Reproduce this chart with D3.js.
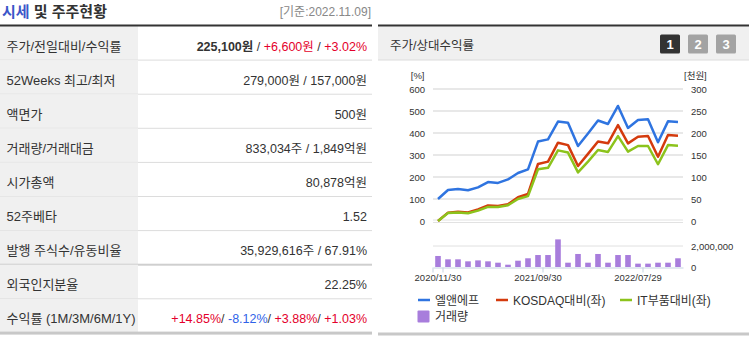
<!DOCTYPE html>
<html><head><meta charset="utf-8">
<script src="https://cdn.jsdelivr.net/npm/d3@7"></script>
<style>
body{margin:0;background:#fff;}
text{font-family:"Liberation Sans","Noto Sans CJK KR",sans-serif;}
</style></head>
<body>
<script>
// ---------- data ----------
const titleMain = "시세";
const titleRest = " 및 주주현황";
const asOf = "[기준:2022.11.09]";
const rowLabels = ["주가/전일대비/수익률","52Weeks 최고/최저","액면가","거래량/거래대금","시가총액","52주베타","발행 주식수/유동비율","외국인지분율","수익률 (1M/3M/6M/1Y)"];
// each value is a list of [text, kind]
const rowValues = [
  [["225,100원","bold"],[" / ","sep"],["+6,600원","up"],[" / ","sep"],["+3.02%","up"]],
  [["279,000원 / 157,000원","plain"]],
  [["500원","plain"]],
  [["833,034주 / 1,849억원","plain"]],
  [["80,878억원","plain"]],
  [["1.52","plain"]],
  [["35,929,616주 / 67.91%","plain"]],
  [["22.25%","plain"]],
  [["+14.85%","up"],["/ ","sep"],["-8.12%","down"],["/ ","sep"],["+3.88%","up"],["/ ","sep"],["+1.03%","up"]]
];
const chartTitle = "주가/상대수익률";
const pageButtons = ["1","2","3"];

const dates = ["2020/11/30","2020/12/30","2021/01/29","2021/02/26","2021/03/31","2021/04/30","2021/05/31","2021/06/30","2021/07/30","2021/08/31","2021/09/30","2021/10/29","2021/11/30","2021/12/30","2022/01/28","2022/02/28","2022/03/31","2022/04/29","2022/05/31","2022/06/30","2022/07/29","2022/08/31","2022/09/30","2022/10/31","2022/11/09"];
const priceK = [50,70.5,72.5,70,76.5,88.5,86.5,94.5,109,117.5,180.5,185.5,226,223.5,170.5,199,228.5,220.5,261.5,211.5,229.5,231,179,226.5,225.1];
const kosdaqRel = [0,38,42,39,53,71,68,76,108,123,259,270,356,345,250,305,361,353,436,353,383,386,292,391,388];
const itRel = [0,36,39,35,47,64,64,72,100,113,235,242,321,311,221,270,323,314,386,315,341,341,258,345,342];
const volume = [1050000,730000,730000,540000,630000,540000,410000,220000,600000,830000,1140000,1140000,2630000,410000,1240000,410000,1240000,410000,1140000,1140000,320000,320000,410000,410000,830000];
const leftTicks = [0,100,200,300,400,500,600];
const rightTicks = [0,50,100,150,200,250,300];
const volTicks = [0,2000000];
const xLabelDates = ["2020/11/30","2021/09/30","2022/07/29"];
const xTickDates = ["2020/12/30","2021/10/29","2022/08/31"];
const seriesNames = ["엘앤에프","KOSDAQ대비(좌)","IT부품대비(좌)","거래량"];

// ---------- drawing ----------
const svg = d3.select("body").append("svg").attr("width",751).attr("height",338);
const kindColor = {bold:"#333",sep:"#333",up:"#e4002b",down:"#2f62e8",plain:"#333"};

// Left panel
const title = svg.append("text").attr("x",2).attr("y",16.5).attr("font-size",15).attr("font-weight",700);
title.append("tspan").attr("fill","#3b56c9").text(titleMain);
title.append("tspan").attr("fill","#333").text(titleRest);
svg.append("text").attr("x",371).attr("y",16).attr("text-anchor","end").attr("font-size",12).attr("fill","#888").text(asOf);

const rowTop = 26, rowH = 34.1, tableW = 372, labelW = 138;
const rows = svg.append("g");
rowLabels.forEach((lab,i)=>{
  const y0 = rowTop + i*rowH;
  rows.append("rect").attr("x",0).attr("y",y0).attr("width",labelW).attr("height",rowH).attr("fill","#f0f0f0");
  rows.append("text").attr("x",6.5).attr("y",y0+24.5).attr("font-size",13).attr("fill","#333").text(lab);
  const t = rows.append("text").attr("x",367).attr("y",y0+24.5).attr("text-anchor","end").attr("font-size",12.5);
  rowValues[i].forEach(([s,k])=>{
    t.append("tspan").attr("fill",kindColor[k]).attr("font-weight",k==="bold"?700:400).attr("xml:space","preserve").text(s);
  });
  const yb = y0 + rowH;
  if(i===rowLabels.length-1){
    rows.append("rect").attr("x",0).attr("y",yb-1.3).attr("width",tableW).attr("height",3).attr("fill","#c8c8c8");
  } else if(i===6){
    rows.append("rect").attr("x",0).attr("y",yb-1).attr("width",tableW).attr("height",2).attr("fill","#cfcfcf");
  } else {
    rows.append("rect").attr("x",0).attr("y",yb-0.5).attr("width",tableW).attr("height",1).attr("fill","#dcdcdc");
  }
});
svg.append("rect").attr("x",0).attr("y",24.5).attr("width",tableW).attr("height",2).attr("fill","#333");

// Right panel
const px0 = 378, pw = 371;
svg.append("rect").attr("x",px0).attr("y",26.5).attr("width",pw).attr("height",33.5).attr("fill","#f0f0f0");
svg.append("rect").attr("x",px0).attr("y",59.5).attr("width",pw).attr("height",1).attr("fill","#dcdcdc");
svg.append("rect").attr("x",px0).attr("y",24.5).attr("width",pw).attr("height",2).attr("fill","#333");
svg.append("text").attr("x",390).attr("y",49.5).attr("font-size",12.5).attr("fill","#333").text(chartTitle);
pageButtons.forEach((b,i)=>{
  const bx = 660 + i*28;
  svg.append("rect").attr("x",bx).attr("y",34.5).attr("width",20).attr("height",19).attr("rx",1.5)
    .attr("fill", i===0 ? "#333" : "#a3a3a3");
  svg.append("text").attr("x",bx+10).attr("y",48.5).attr("text-anchor","middle").attr("font-size",13)
    .attr("font-weight",700).attr("fill","#fff").text(b);
});
svg.append("rect").attr("x",px0).attr("y",332.5).attr("width",pw).attr("height",3).attr("fill","#c8c8c8");

// scales
const x = d3.scaleBand().domain(dates).range([433,683]).padding(0);
const cx = d => x(d) + x.bandwidth()/2;
const yL = d3.scaleLinear().domain([0,600]).range([221,89]);
const yR = d3.scaleLinear().domain([0,300]).range([221,89]);
const yV = d3.scaleLinear().domain([0,2000000]).range([267,246]);

const chart = svg.append("g");
// gridlines
chart.selectAll(".grid").data(leftTicks.filter(v=>v>0)).enter().append("line")
  .attr("x1",433).attr("x2",683).attr("y1",d=>yL(d)).attr("y2",d=>yL(d))
  .attr("stroke","#e8e8e8").attr("stroke-width",2);
chart.append("line").attr("x1",433).attr("x2",683).attr("y1",yL(0)-1).attr("y2",yL(0)-1).attr("stroke","#e2e2e2").attr("stroke-width",1);
chart.append("line").attr("x1",433).attr("x2",683).attr("y1",yL(0)+1.5).attr("y2",yL(0)+1.5).attr("stroke","#e2e2e2").attr("stroke-width",1);
chart.selectAll(".vgrid").data(volTicks.filter(v=>v>0)).enter().append("line")
  .attr("x1",433).attr("x2",683).attr("y1",d=>yV(d)).attr("y2",d=>yV(d))
  .attr("stroke","#e0e0e0").attr("stroke-width",1);

// axes (labels)
const styleAxis = g => { g.select(".domain").remove(); g.selectAll("line").remove();
  g.selectAll("text").attr("font-size",9.5).attr("fill","#333").attr("font-family","'Liberation Sans',sans-serif"); };
chart.append("g").attr("transform","translate(429,0)")
  .call(d3.axisLeft(yL).tickValues(leftTicks).tickSize(0).tickPadding(4).tickFormat(d3.format("d"))).call(styleAxis);
chart.append("g").attr("transform","translate(687,0)")
  .call(d3.axisRight(yR).tickValues(rightTicks).tickSize(0).tickPadding(4).tickFormat(d3.format("d"))).call(styleAxis);
chart.append("g").attr("transform","translate(687,0)")
  .call(d3.axisRight(yV).tickValues(volTicks).tickSize(0).tickPadding(4).tickFormat(d3.format(",d"))).call(styleAxis);
chart.append("text").attr("x",424.5).attr("y",78.5).attr("text-anchor","end").attr("font-size",9.5).attr("fill","#333").text("[%]");
chart.append("text").attr("x",684).attr("y",78.5).attr("font-size",9.5).attr("fill","#333").text("[천원]");

// bars
chart.selectAll(".bar").data(volume).enter().append("rect")
  .attr("x",(d,i)=>cx(dates[i])-2.8).attr("width",5.6)
  .attr("y",d=>yV(d)).attr("height",d=>yV(0)-yV(d)).attr("fill","#a87ddc");

// x axis
const xAxis = chart.append("g").attr("transform","translate(0,267.5)")
  .call(d3.axisBottom(x).tickValues(xLabelDates).tickSize(0).tickPadding(7));
xAxis.select(".domain").attr("stroke","#c5d3e2");
xAxis.selectAll("text").attr("font-size",9.5).attr("fill","#333").attr("font-family","'Liberation Sans',sans-serif");
const tickXs = [433].concat(xTickDates.map(d=>x(d)));
chart.selectAll(".xt").data(tickXs).enter().append("line")
  .attr("x1",d=>d).attr("x2",d=>d).attr("y1",267.5).attr("y2",272.5).attr("stroke","#c5d3e2");

// lines
const colors = ["#2f74e0","#d43a0d","#8cc31c"];
const lineL = d3.line().x((d,i)=>cx(dates[i])).y(d=>yL(d));
const lineR = d3.line().x((d,i)=>cx(dates[i])).y(d=>yR(d));
chart.append("path").attr("d",lineR(priceK)).attr("fill","none").attr("stroke",colors[0]).attr("stroke-width",2.5).attr("stroke-linejoin","round");
chart.append("path").attr("d",lineL(kosdaqRel)).attr("fill","none").attr("stroke",colors[1]).attr("stroke-width",2.5).attr("stroke-linejoin","round");
chart.append("path").attr("d",lineL(itRel)).attr("fill","none").attr("stroke",colors[2]).attr("stroke-width",2.5).attr("stroke-linejoin","round");

// legend
const legX = [418,496,620];
[0,1,2].forEach(i=>{
  chart.append("line").attr("x1",legX[i]).attr("x2",legX[i]+12).attr("y1",300).attr("y2",300).attr("stroke",colors[i]).attr("stroke-width",2.5);
  chart.append("text").attr("x",legX[i]+17).attr("y",305).attr("font-size",12).attr("fill","#333").text(seriesNames[i]);
});
chart.append("rect").attr("x",417.5).attr("y",310.5).attr("width",12).attr("height",12).attr("rx",1).attr("fill","#a87ddc");
chart.append("text").attr("x",435).attr("y",321).attr("font-size",12).attr("fill","#333").text(seriesNames[3]);
</script>
</body></html>
